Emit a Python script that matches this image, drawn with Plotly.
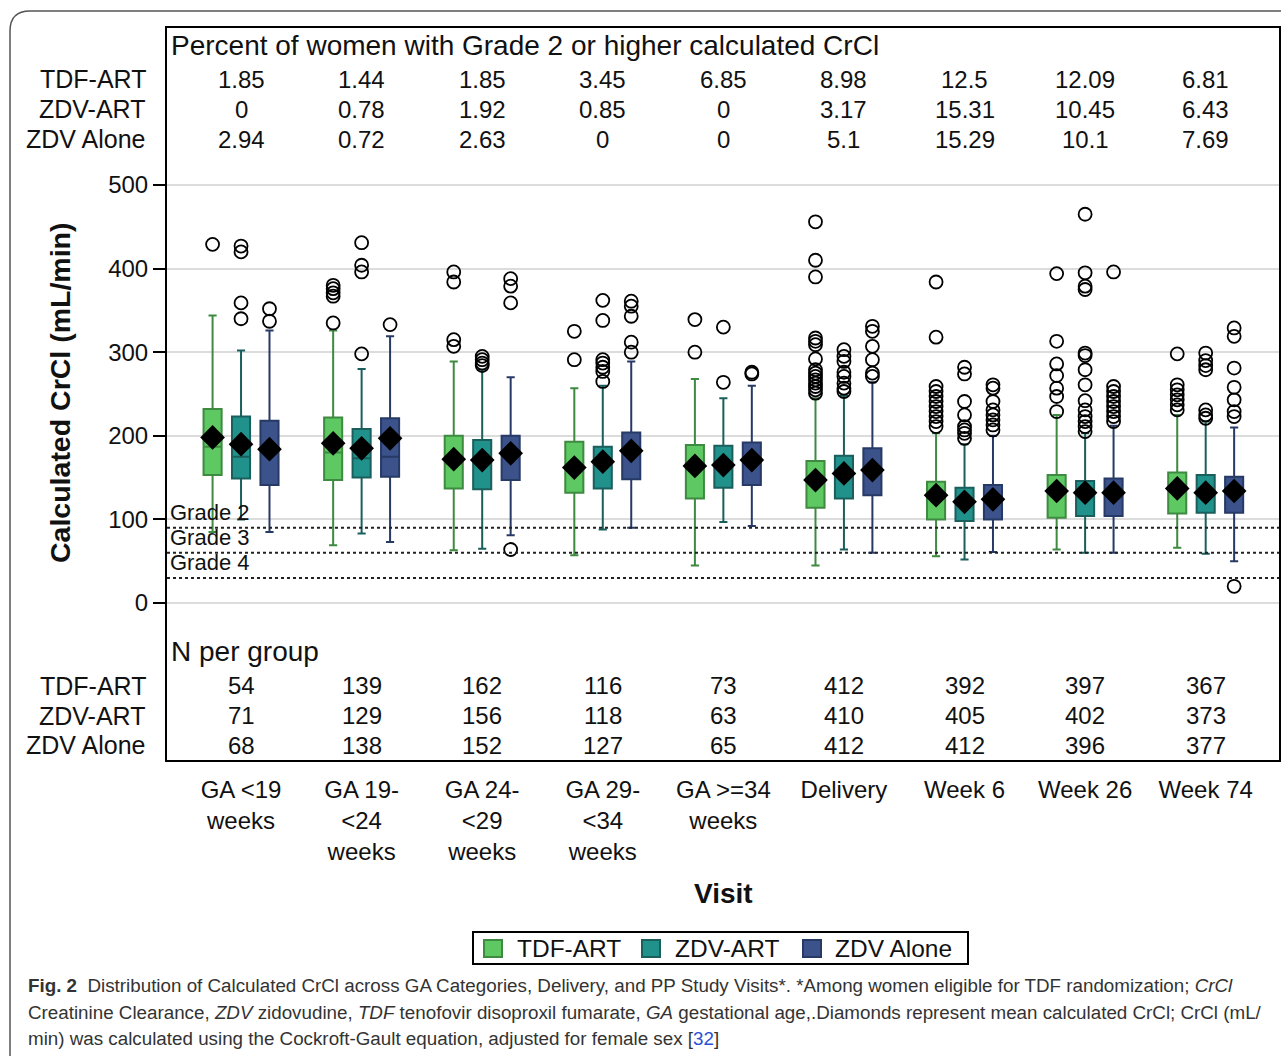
import plotly.graph_objects as go

categories = ["GA <19<br>weeks", "GA 19-<br><24<br>weeks", "GA 24-<br><29<br>weeks", "GA 29-<br><34<br>weeks",
              "GA >=34<br>weeks", "Delivery", "Week 6", "Week 26", "Week 74"]
groups = ["TDF-ART", "ZDV-ART", "ZDV Alone"]

# Percent of women with grade 2 or higher
pct_tdf = ["1.85", "1.44", "1.85", "3.45", "6.85", "8.98", "12.5", "12.09", "6.81"]
pct_zdvart = ["0", "0.78", "1.92", "0.85", "0", "3.17", "15.31", "10.45", "6.43"]
pct_zdv = ["2.94", "0.72", "2.63", "0", "0", "5.1", "15.29", "10.1", "7.69"]

# N per group
n_tdf = ["54", "139", "162", "116", "73", "412", "392", "397", "367"]
n_zdvart = ["71", "129", "156", "118", "63", "410", "405", "402", "373"]
n_zdv = ["68", "138", "152", "127", "65", "412", "412", "396", "377"]

# Box statistics
tdf_low = [85, 69, 63, 57, 45, 45, 56, 64, 66]
tdf_q1 = [153, 147, 137, 132, 125, 114, 100, 102, 107]
tdf_med = [187, 180, 167, 160, 162, 145, 127, 131, 135]
tdf_q3 = [232, 222, 200, 193, 189, 170, 145, 153, 156]
tdf_up = [344, 326, 289, 257, 268, 245, 203, 225, 225]
tdf_mean = [198, 191, 172, 162, 164, 147, 129, 134, 137]
tdf_out = [[429], [380, 376, 371, 367, 335], [396, 384, 315, 307], [325, 291], [339, 300],
           [456, 410, 390, 317, 313, 309, 292, 279, 275, 271, 267, 263, 259, 255, 251],
           [384, 318, 259, 253, 247, 241, 235, 229, 223, 217, 211],
           [394, 313, 286, 272, 257, 247, 229],
           [298, 261, 255, 249, 243, 237, 231]]

zart_low = [100, 83, 65, 88, 97, 64, 52, 60, 59]
zart_q1 = [149, 150, 136, 137, 138, 125, 98, 104, 108]
zart_med = [175, 173, 168, 167, 163, 153, 119, 130, 130]
zart_q3 = [223, 208, 195, 187, 188, 176, 138, 146, 153]
zart_up = [302, 280, 279, 260, 245, 248, 190, 203, 217]
zart_mean = [190, 185, 171, 169, 165, 155, 121, 132, 132]
zart_out = [[427, 420, 359, 340], [431, 404, 396, 298], [295, 291, 287, 284],
            [362, 338, 291, 287, 282, 277, 265], [330, 264],
            [303, 295, 289, 276, 271, 263, 257, 253],
            [282, 274, 241, 225, 211, 207, 203, 197],
            [465, 395, 379, 375, 299, 296, 279, 261, 242, 231, 223, 217, 211, 205],
            [299, 290, 284, 279, 231, 225, 221]]

zdv_low = [85, 73, 81, 90, 92, 60, 61, 60, 50]
zdv_q1 = [141, 151, 147, 148, 141, 129, 100, 104, 108]
zdv_med = [182, 175, 176, 180, 168, 156, 122, 130, 132]
zdv_q3 = [218, 221, 200, 204, 192, 185, 141, 149, 151]
zdv_up = [326, 319, 270, 289, 260, 264, 200, 212, 210]
zdv_mean = [184, 197, 179, 182, 171, 159, 124, 132, 134]
zdv_out = [[352, 337], [333], [388, 379, 359, 64], [361, 355, 343, 312, 300], [276, 274],
           [331, 325, 307, 291, 275, 271],
           [261, 257, 241, 231, 225, 219, 213, 207],
           [396, 259, 253, 247, 241, 235, 229, 223, 217],
           [329, 319, 281, 258, 243, 229, 223, 20]]

grade_levels = [90, 60, 30]
grade_labels = ["Grade 2", "Grade 3", "Grade 4"]

fills = ["#5ec962", "#21918c", "#3b528b"]
lines = ["#3d8a40", "#1b5f5c", "#273a66"]
offsets = [-0.236, 0.0, 0.236]

FONT = "Liberation Sans, Arial, sans-serif"
TXT = "#111"
W, H = 1281, 1056
L, R, T, B = 167, 2, 28, 296


def xp(px):
    return (px - L) / (W - L - R)


def yp(py):
    return (H - B - py) / (H - T - B)


fig = go.Figure()
series = [
    (tdf_low, tdf_q1, tdf_med, tdf_q3, tdf_up, tdf_mean, tdf_out),
    (zart_low, zart_q1, zart_med, zart_q3, zart_up, zart_mean, zart_out),
    (zdv_low, zdv_q1, zdv_med, zdv_q3, zdv_up, zdv_mean, zdv_out),
]
idx = list(range(len(categories)))
for k, (lo, q1, md, q3, up, mn, outs) in enumerate(series):
    xs = [i + offsets[k] for i in idx]
    fig.add_trace(go.Box(x=xs, lowerfence=lo, q1=q1, median=md, q3=q3, upperfence=up,
                         width=0.15, whiskerwidth=0.45, fillcolor=fills[k],
                         line=dict(color=lines[k], width=2), boxpoints=False,
                         name=groups[k], showlegend=False, hoverinfo="skip"))
    ox, oy = [], []
    for i, vals in enumerate(outs):
        for v in vals:
            ox.append(i + offsets[k])
            oy.append(v)
    fig.add_trace(go.Scatter(x=ox, y=oy, mode="markers", showlegend=False,
                             marker=dict(symbol="circle-open", size=13, color="black",
                                         line=dict(width=1.8, color="black"))))
    fig.add_trace(go.Scatter(x=xs, y=mn, mode="markers", showlegend=False,
                             marker=dict(symbol="diamond", size=19, color="black")))

# grade lines
for lvl, lab in zip(grade_levels, grade_labels):
    fig.add_shape(type="line", xref="paper", yref="y", x0=0, x1=1, y0=lvl, y1=lvl,
                  line=dict(color="#222", width=2, dash="dot"))
    fig.add_annotation(x=xp(168), xref="paper", y=lvl, yref="y", text=lab, showarrow=False,
                       xanchor="left", yanchor="middle", yshift=15.5,
                       font=dict(family=FONT, size=22, color=TXT))

# header table
y_rows_top = [626.8, 590.9, 555.0]
y_rows_bot = [-98.7, -134.6, -170.4]
fig.add_annotation(x=xp(169), xref="paper", y=667, yref="y",
                   text="Percent of women with Grade 2 or higher calculated CrCl",
                   showarrow=False, xanchor="left", yanchor="middle",
                   font=dict(family=FONT, size=28, color=TXT))
fig.add_annotation(x=xp(169), xref="paper", y=-57.5, yref="y", text="N per group",
                   showarrow=False, xanchor="left", yanchor="middle",
                   font=dict(family=FONT, size=28, color=TXT))
for rows, yrow in (((pct_tdf, pct_zdvart, pct_zdv), y_rows_top), ((n_tdf, n_zdvart, n_zdv), y_rows_bot)):
    for g, vals, yy in zip(groups, rows, yrow):
        fig.add_annotation(x=xp(148), xref="paper", y=yy, yref="y", text=g, showarrow=False,
                           xanchor="right", yanchor="middle",
                           font=dict(family=FONT, size=25, color=TXT))
        for i, v in enumerate(vals):
            fig.add_annotation(x=i, xref="x", y=yy, yref="y", text=v, showarrow=False,
                               xanchor="center", yanchor="middle",
                               font=dict(family=FONT, size=24, color=TXT))

# axis titles
fig.add_annotation(x=xp(60), xref="paper", y=yp(393), yref="paper",
                   text="<b>Calculated CrCl (mL/min)</b>", textangle=-90, showarrow=False,
                   xanchor="center", yanchor="middle", font=dict(family=FONT, size=28.5, color=TXT))
fig.add_annotation(x=xp(723), xref="paper", y=yp(893), yref="paper", text="<b>Visit</b>",
                   showarrow=False, xanchor="center", yanchor="middle",
                   font=dict(family=FONT, size=28, color=TXT))

# legend (box with swatches)
fig.add_shape(type="rect", xref="paper", yref="paper", x0=xp(473), x1=xp(968), y0=yp(932), y1=yp(964),
              line=dict(color="black", width=2), fillcolor="white")
sw_left = [484, 642, 803]
txt_left = [515, 673, 833]
for k in range(3):
    fig.add_shape(type="rect", xref="paper", yref="paper", x0=xp(sw_left[k]), x1=xp(sw_left[k] + 18),
                  y0=yp(940), y1=yp(957), fillcolor=fills[k], line=dict(color=lines[k], width=2))
    fig.add_annotation(x=xp(txt_left[k]), xref="paper", y=yp(948), yref="paper", text=groups[k],
                       showarrow=False, xanchor="left", yanchor="middle",
                       font=dict(family=FONT, size=24.5, color=TXT))

# caption
captions = [
    "<b>Fig. 2</b>  Distribution of Calculated CrCl across GA Categories, Delivery, and PP Study Visits*. *Among women eligible for TDF randomization; <i>CrCl</i>",
    "Creatinine Clearance, <i>ZDV</i> zidovudine, <i>TDF</i> tenofovir disoproxil fumarate, <i>GA</i> gestational age,.Diamonds represent mean calculated CrCl; CrCl (mL/",
    "min) was calculated using the Cockroft-Gault equation, adjusted for female sex [<span style='color:#2b4fd6'>32</span>]",
]
for cy, ct in zip([985, 1012, 1038], captions):
    fig.add_annotation(x=xp(26), xref="paper", y=yp(cy), yref="paper", text=ct,
                       showarrow=False, xanchor="left", yanchor="middle",
                       font=dict(family=FONT, size=18.8, color="#333"))

# outer rounded border
r = 20
path = (f"M {xp(1295)},{yp(11)} L {xp(10 + r)},{yp(11)} Q {xp(10)},{yp(11)} {xp(10)},{yp(11 + r)} "
        f"L {xp(10)},{yp(1070)}")
fig.add_shape(type="path", xref="paper", yref="paper", path=path,
              line=dict(color="#555", width=1.5))

fig.update_layout(
    width=W, height=H, margin=dict(l=L, r=R, t=T, b=B, autoexpand=False),
    paper_bgcolor="white", plot_bgcolor="white",
    font=dict(family=FONT, size=22, color=TXT),
    boxmode="overlay", showlegend=False,
    xaxis=dict(range=[-0.614, 8.608], tickmode="array", tickvals=idx, ticktext=categories,
               showline=True, mirror=True, linecolor="black", linewidth=2, ticks="",
               showgrid=False, zeroline=False, ticklabelstandoff=7,
               tickfont=dict(family=FONT, size=24, color=TXT)),
    yaxis=dict(range=[-187.8, 687.8], tickmode="array", tickvals=[0, 100, 200, 300, 400, 500],
               showline=True, mirror=True, linecolor="black", linewidth=2, ticks="outside",
               ticklen=12, tickwidth=2, tickcolor="black", showgrid=True, gridcolor="#dcdcdc",
               gridwidth=2, zeroline=False, tickfont=dict(family=FONT, size=24, color=TXT)),
)

fig.write_html("out.html", config={"displayModeBar": False},
               post_script="document.body.style.margin='0';document.body.style.overflow='hidden';")
